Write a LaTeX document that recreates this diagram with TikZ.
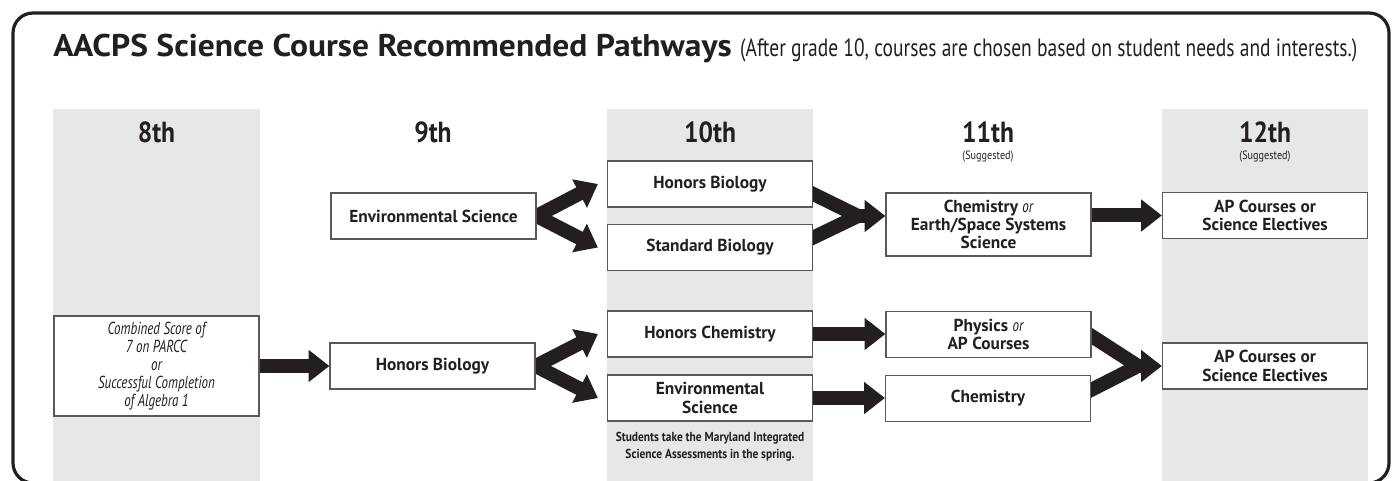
\documentclass[tikz,border=0pt]{standalone}
\usepackage{fontspec}
\setmainfont{PT Sans}
\newfontfamily\titlefont[FakeStretch=1.07]{PT Sans}
\newfontfamily\subfont[FakeStretch=0.78]{PT Sans}
\newfontfamily\suggfont[FakeStretch=0.85]{PT Sans}
\newfontfamily\itcond[FakeStretch=0.75]{PT Sans}
\newfontfamily\bcond[FakeStretch=0.88]{PT Sans}
\usetikzlibrary{arrows.meta,calc}
\definecolor{colgray}{HTML}{E6E7E8}
\definecolor{ink}{HTML}{231F20}
\definecolor{boxline}{HTML}{58595B}
\pgfdeclarelayer{back}
\pgfdeclarelayer{mid}
\pgfsetlayers{back,mid,main}
\begin{document}
\begin{tikzpicture}[x=0.75pt,y=-0.75pt,
  box/.style={draw=boxline, line width=0.9pt, fill=white, inner sep=0pt, align=center,
    minimum width=153.75pt, minimum height=34.5pt,
    font=\fontsize{13}{13.8}\selectfont\bfseries, text=ink},
  hdr/.style={anchor=base, inner sep=0pt, font=\bcond\fontsize{21.8}{24}\selectfont\bfseries, text=ink},
  sugg/.style={anchor=base, inner sep=0pt, font=\suggfont\fontsize{9}{10}\selectfont, text=ink},
  band/.style={draw=ink, line width=10.5pt},
  bigarrow/.style={band, -{Triangle[length=15.5pt,width=23pt]}},
]
\useasboundingbox (0,0) rectangle (1393,481);

% grade columns
\begin{pgfonlayer}{back}
  \fill[colgray] (53,109) rectangle (260,481);
  \fill[colgray] (607,109) rectangle (813,481);
  \fill[colgray] (1162,109) rectangle (1368,481);
\end{pgfonlayer}

% frame
\draw[ink, line width=2.4pt, rounded corners=15pt] (13,13) rectangle (1389,483);

% title
\node[anchor=base west, inner sep=0pt, text=ink] (title) at (53,57)
  {\titlefont\fontsize{23.5}{26}\selectfont\bfseries AACPS Science Course Recommended Pathways {\subfont\mdseries\fontsize{18.75}{20}\selectfont (After grade 10, courses are chosen based on student needs and interests.)}};

% headers
\node[hdr] (h8) at (156.5,143) {8th};
\node[hdr] (h9) at (433,143) {9th};
\node[hdr] (h10) at (710,143) {10th};
\node[hdr] (h11) at (988,143) {11th};
\node[hdr] (h12) at (1265,143) {12th};
\node[sugg] (s11) at (988,159.5) {(Suggested)};
\node[sugg] (s12) at (1265,159.5) {(Suggested)};

% boxes
\node[box, minimum height=75pt, font=\itcond\itshape\fontsize{13}{13.5}\selectfont] (cs8) at (156.5,366)
  {Combined Score of\\7 on PARCC\\or\\Successful Completion\\of Algebra 1};
\node[box] (es9) at (433.5,216) {Environmental Science};
\node[box] (hb9) at (432.5,366) {Honors Biology};
\node[box] (hb10) at (710,184) {Honors Biology};
\node[box] (sb10) at (710,247.5) {Standard Biology};
\node[box] (hc10) at (710,334) {Honors Chemistry};
\node[box] (en10) at (710,398) {Environmental\\Science};
\node[box, minimum height=47.25pt] (ch11) at (988.5,224.5)
  {Chemistry {\itcond\itshape\mdseries or}\\Earth/Space Systems\\Science};
\node[box] (ph11) at (988.5,334.5) {Physics {\itcond\itshape\mdseries or}\\AP Courses};
\node[box] (cm11) at (988,398.5) {Chemistry};
\node[box] (ap12a) at (1265,215.5) {AP Courses or\\Science Electives};
\node[box] (ap12b) at (1265,366) {AP Courses or\\Science Electives};

\node[align=center, inner sep=0pt, text=ink, font=\bcond\bfseries\fontsize{9.75}{12.75}\selectfont] (note) at (710,446.5)
  {Students take the Maryland Integrated\\Science Assessments in the spring.};

% connectors
\coordinate (m1) at (858,216);
\coordinate (m2) at (1138,366);
\begin{pgfonlayer}{mid}
  \draw[bigarrow] (cs8.east) -- (hb9.west);
  \draw[bigarrow] (es9.east) -- ($(hb10.west)+(-9,0)$);
  \draw[bigarrow] (es9.east) -- ($(sb10.west)+(-9,0)$);
  \draw[bigarrow] (hb9.east) -- ($(hc10.west)+(-9,0)$);
  \draw[bigarrow] (hb9.east) -- ($(en10.west)+(-9,0)$);
  \draw[band] ($(hb10.east)+(-6,7)$) -- (m1);
  \draw[band] ($(sb10.east)+(-6,-7)$) -- (m1);
  \draw[bigarrow] ($(m1)+(-8,0)$) -- (ch11.west |- m1);
  \draw[bigarrow] (ch11.east |- ap12a.west) -- (ap12a.west);
  \draw[bigarrow] (hc10.east) -- (ph11.west |- hc10.east);
  \draw[bigarrow] (en10.east) -- (cm11.west |- en10.east);
  \draw[band] ($(ph11.east)+(-5,-1.7)$) -- (m2);
  \draw[band] ($(cm11.east)+(-5.4,-5.8)$) -- (m2);
  \draw[bigarrow] ($(m2)+(-8,0)$) -- (ap12b.west);
\end{pgfonlayer}
\end{tikzpicture}
\end{document}
